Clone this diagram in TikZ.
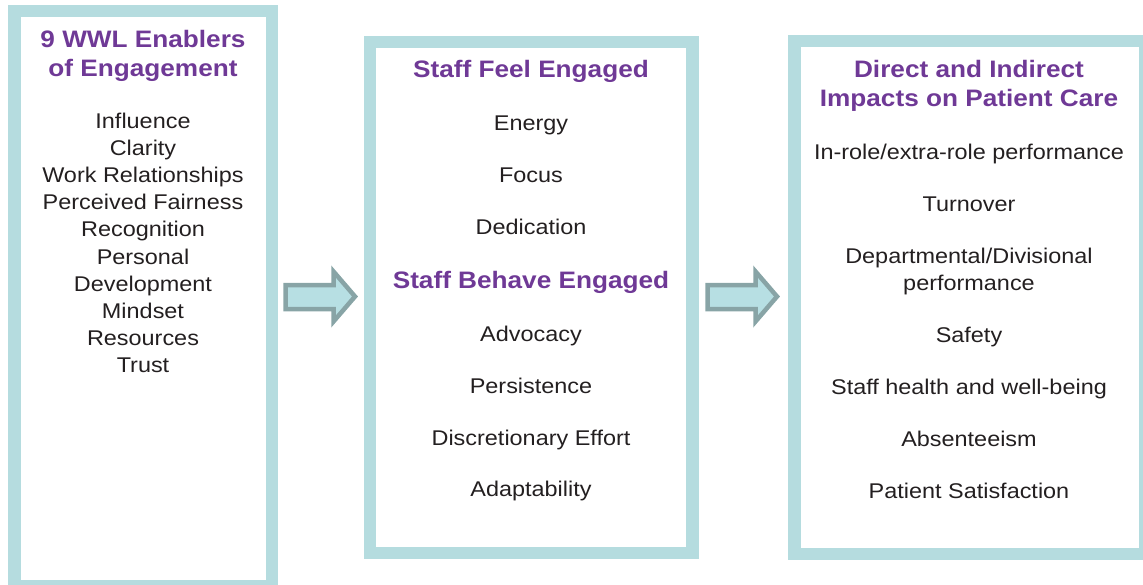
\documentclass[tikz,border=0pt]{standalone}
\usepackage{fontspec}
\setmainfont{Liberation Sans}[FakeStretch=1.1]
\definecolor{panelblue}{HTML}{B5DCDF}
\definecolor{arrowfill}{HTML}{B7DFE3}
\definecolor{arrowline}{HTML}{88A4A6}
\definecolor{titlepurple}{HTML}{6F3996}
\definecolor{textgray}{HTML}{231F20}
\tikzset{
  panel/.style={draw=panelblue,line width=12.5pt},
  bigarrow/.style={fill=arrowfill,draw=arrowline,line width=4.5pt,line join=miter},
  heading/.style={font=\fontsize{23.8}{29}\selectfont\bfseries,text=titlepurple,anchor=base,inner sep=0pt},
  item/.style={font=\fontsize{21.3}{27}\selectfont,text=textgray,anchor=base,inner sep=0pt}
}
\begin{document}
\begin{tikzpicture}[x=1pt,y=-1pt]
  \useasboundingbox (0,0) rectangle (1143,584);

  % the three panels
  \draw[panel] (14.5,11) rectangle (272,586);
  \draw[panel] (370,42) rectangle (692.5,553);
  \draw[panel] (794.5,41) rectangle (1145,554);

  % block arrows between them
  \foreach \dx in {0,422}
    \draw[bigarrow,xshift=\dx] (285.5,285) -- (333.5,285) -- (333.5,271.5) -- (355,296.5)
          -- (333.5,321.5) -- (333.5,309) -- (285.5,309) -- cycle;

  % left panel
  \node[heading] (enablersA) at (143,47) {9 WWL Enablers};
  \node[heading] (enablersB) at (143,76) {of Engagement};
  \foreach \txt [count=\i] in {Influence,Clarity,Work Relationships,Perceived Fairness,
      Recognition,Personal,Development,Mindset,Resources,Trust}
    \node[item] (en\i) at (143,{128+27.2*(\i-1)}) {\txt};

  % middle panel
  \node[heading] (feel) at (531,77) {Staff Feel Engaged};
  \node[item] (energy) at (531,130) {Energy};
  \node[item] (focus) at (531,182) {Focus};
  \node[item] (dedication) at (531,234) {Dedication};
  \node[heading] (behave) at (531,288) {Staff Behave Engaged};
  \node[item] (advocacy) at (531,341) {Advocacy};
  \node[item] (persistence) at (531,393) {Persistence};
  \node[item] (effort) at (531,445) {Discretionary Effort};
  \node[item] (adapt) at (531,496) {Adaptability};

  % right panel
  \node[heading] (impactsA) at (969,77) {Direct and Indirect};
  \node[heading] (impactsB) at (969,106) {Impacts on Patient Care};
  \node[item] (inrole) at (969,159) {In-role/extra-role performance};
  \node[item] (turnover) at (969,211) {Turnover};
  \node[item] (deptA) at (969,263) {Departmental/Divisional};
  \node[item] (deptB) at (969,290) {performance};
  \node[item] (safety) at (969,342) {Safety};
  \node[item] (health) at (969,394) {Staff health and well-being};
  \node[item] (absent) at (969,446) {Absenteeism};
  \node[item] (satisfaction) at (969,498) {Patient Satisfaction};
\end{tikzpicture}
\end{document}
